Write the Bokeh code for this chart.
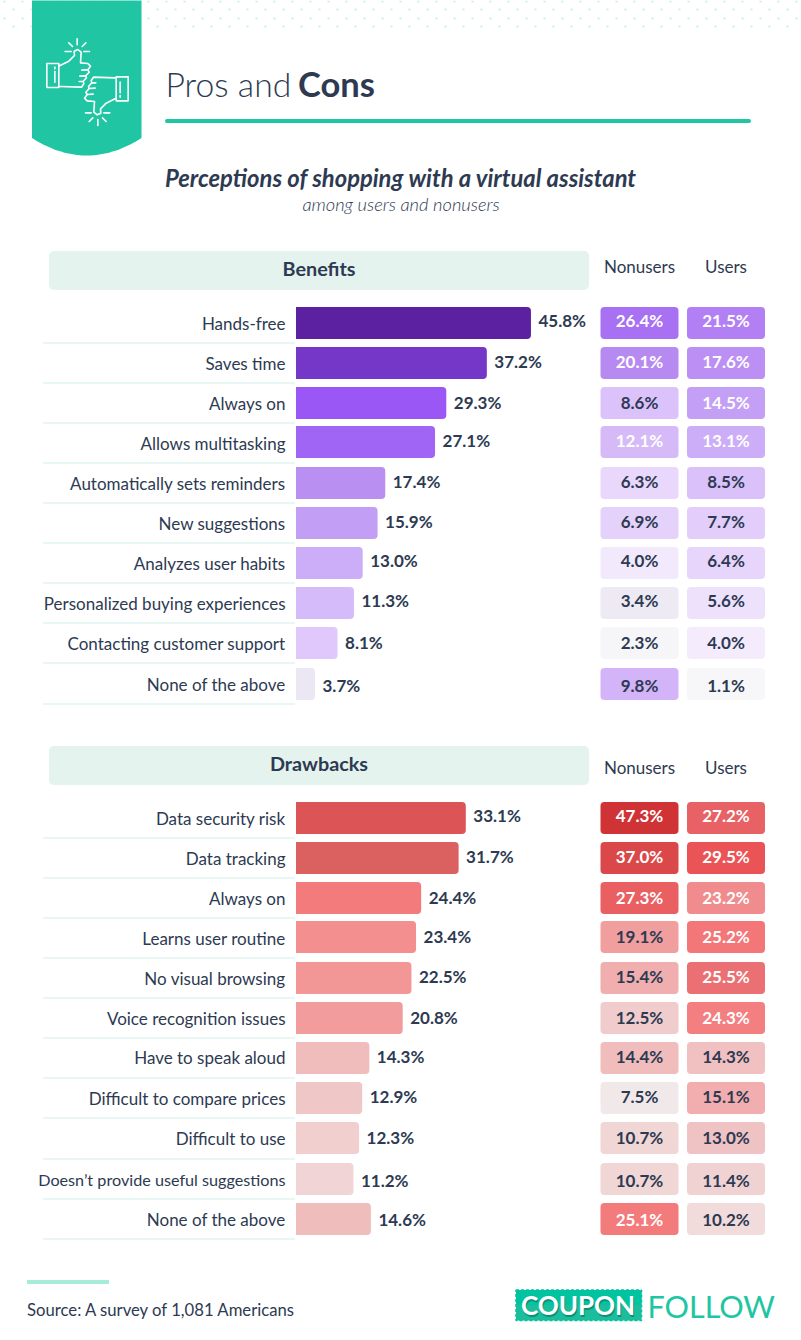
import numpy as np
from bokeh.plotting import figure
from bokeh.models import Range1d
from bokeh.core.properties import value
from bokeh.embed import file_html
from bokeh.resources import INLINE

# ---------- data ----------
benefit_labels = ["Hands-free", "Saves time", "Always on", "Allows multitasking",
                  "Automatically sets reminders", "New suggestions", "Analyzes user habits",
                  "Personalized buying experiences", "Contacting customer support", "None of the above"]
benefit_total = [45.8, 37.2, 29.3, 27.1, 17.4, 15.9, 13.0, 11.3, 8.1, 3.7]
benefit_nonusers = [26.4, 20.1, 8.6, 12.1, 6.3, 6.9, 4.0, 3.4, 2.3, 9.8]
benefit_users = [21.5, 17.6, 14.5, 13.1, 8.5, 7.7, 6.4, 5.6, 4.0, 1.1]

drawback_labels = ["Data security risk", "Data tracking", "Always on", "Learns user routine",
                   "No visual browsing", "Voice recognition issues", "Have to speak aloud",
                   "Difficult to compare prices", "Difficult to use",
                   "Doesn\u2019t provide useful suggestions", "None of the above"]
drawback_total = [33.1, 31.7, 24.4, 23.4, 22.5, 20.8, 14.3, 12.9, 12.3, 11.2, 14.6]
drawback_nonusers = [47.3, 37.0, 27.3, 19.1, 15.4, 12.5, 14.4, 7.5, 10.7, 10.7, 25.1]
drawback_users = [27.2, 29.5, 23.2, 25.2, 25.5, 24.3, 14.3, 15.1, 13.0, 11.4, 10.2]

# ---------- styles ----------
b_bar_col = ["#5b21a0", "#7437c8", "#9a57f5", "#a065f4", "#ba8ff2", "#c29ff4", "#ccaef8", "#d6bbfa", "#e0c8fd", "#ebe8f3"]
b_non_col = ["#a870f3", "#b78af2", "#dcc2fb", "#d6baf8", "#e9d8fb", "#e4d2fb", "#f3e9fc", "#edeaf4", "#f6f6f9", "#d3b4f8"]
b_usr_col = ["#b280f4", "#bb8ff3", "#c39ff6", "#ccadf7", "#dac1fa", "#e2cdfb", "#e8d5fb", "#ede1fc", "#f4ebfc", "#f7f7f9"]
d_bar_col = ["#dc5455", "#db6060", "#f47b7b", "#f38f8e", "#f29696", "#f29c9d", "#f1bcbc", "#f0c7c7", "#f1cfcf", "#f1d5d6", "#f0bdbd"]
d_non_col = ["#cf3335", "#db484a", "#e95f62", "#f19e9f", "#f0aeae", "#f0cccc", "#f0bcbc", "#f1e9e9", "#f1d6d6", "#f1d6d6", "#f47b7c"]
d_usr_col = ["#e86164", "#ea5456", "#f08c8d", "#f37678", "#eb7073", "#f37f81", "#f1c0c0", "#f2adae", "#efc2c3", "#f1d2d3", "#f1dbdb"]

b_non_white = [1, 1, 0, 1, 0, 0, 0, 0, 0, 0]
b_usr_white = [1, 1, 1, 1, 0, 0, 0, 0, 0, 0]
d_non_white = [1, 1, 1, 0, 0, 0, 0, 0, 0, 0, 1]
d_usr_white = [1, 1, 1, 1, 1, 1, 0, 0, 0, 0, 0]

INK = "#2d3a52"
TEAL = "#20c5a3"
FONT = "Lato"
FONT_LIGHT = "Lato Light"

# ---------- layout (pixels) ----------
b_top = [307, 347, 387, 426, 467, 507, 547, 587, 627, 668]
d_top = [802, 842, 882, 921, 962, 1002, 1042, 1082, 1122, 1163, 1203]
b_label_y = [323, 363, 403, 443, 483, 523, 563, 603, 643, 684]
d_label_y = [818, 858, 898, 938, 978, 1018, 1057, 1098, 1138, 1179, 1219]
b_val_y = [320.5, 361, 402, 440, 481, 521, 560, 600, 642, 685]
d_val_y = [815, 856, 897, 936, 976, 1017, 1056, 1096, 1137, 1180, 1219]
b_sep = [343, 383, 423, 463, 503, 543, 583, 623, 663, 704]
d_sep = [838, 878, 918, 958, 998, 1038, 1078, 1118, 1159, 1199, 1239]
b_label_size = ["17px"] * 10
d_label_size = ["17px"] * 9 + ["16.2px", "17px"]
BAR_H = 32
X0, PX_PER_PCT = 296, 5.13
NON_X, USR_X = (600.5, 678.5), (687, 765)
SHIFT = 0.5

p = figure(width=801, height=1340, x_range=Range1d(SHIFT, 801 + SHIFT), y_range=Range1d(1340 + SHIFT, SHIFT),
           output_backend="svg", toolbar_location=None, min_border=0,
           background_fill_color="white", border_fill_color="white")
p.styles = {"position": "absolute", "left": "0", "top": "0"}
p.axis.visible = False
p.grid.visible = False
p.outline_line_color = None
p.extra_x_ranges = {"pct": Range1d((SHIFT - X0) / PX_PER_PCT, (801 + SHIFT - X0) / PX_PER_PCT)}


def txt(x, y, s, size, color=INK, align="left", style="normal", font=FONT, **kw):
    p.text([x], [y], text=[s], text_font=value(font), text_font_size=f"{size}px",
           text_color=color, text_align=align, text_baseline="middle", text_font_style=style, **kw)


# dotted texture
dx, dy = [], []
for r, yy in enumerate([1.5, 9.5, 18.5, 26.5]):
    for xx in np.arange(4.5 + (r % 2) * 9, 801, 18):
        dx.append(xx); dy.append(yy)
p.scatter(dx, dy, marker="square", size=2, color="#c6f1e5", line_color=None)

# banner
bx = np.linspace(32, 141.5, 40)
by = 155.5 - 17.5 * ((bx - 86.75) / 54.75) ** 2
p.patch(list(bx) + [141.5, 32], list(by) + [0, 0], color=TEAL, line_color=None)

# icon (traced in a 3x sketch space, second hand is the point reflection of the first)
hand = [(177, 196), (205, 182), (222, 165), (221, 152), (232, 147), (242, 155), (240, 187),
        (262, 189), (270, 197), (262, 208), (266, 215), (256, 226), (258, 232), (248, 243),
        (250, 250), (243, 260), (178, 258)]
cuff = [(139, 189), (175, 189), (175, 261), (139, 261), (139, 189)]
bar_i = [(163, 213), (163, 245)]
dot_i = [(163, 200), (163, 205)]
rays = [[(230, 115), (230, 133)], [(205, 127), (216, 138)], [(256, 127), (245, 138)],
        [(194, 153), (212, 153)], [(250, 153), (267, 153)]]
fingers = [[(262, 208), (244, 209)], [(256, 226), (238, 227)], [(248, 243), (236, 243)]]
paths = [hand, cuff, bar_i, dot_i] + rays + fingers
for path in paths:
    xs = [a / 3 + 0.5 for a, b in path]
    ys = [b / 3 + 0.5 for a, b in path]
    p.line(xs, ys, line_color="white", line_width=1.6, line_join="round", line_cap="round")
    p.line([522 / 3 + 1 - a for a in xs], [490 / 3 + 1 - b for b in ys], line_color="white",
           line_width=1.6, line_join="round", line_cap="round")

# titles
txt(165.5, 83.5, "Pros and", 33.7, font=FONT_LIGHT)
txt(298, 83.5, "Cons", 34.5, style="bold")
p.line([167, 749], [121, 121], line_color=TEAL, line_width=4, line_cap="round")
txt(401, 178, "Perceptions of shopping with a virtual assistant", 23.8, align="center", style="bold italic")
txt(401, 204, "among users and nonusers", 18.3, align="center", style="italic", font=FONT_LIGHT)


def section(title, head_y, col_y, labels, label_size, totals, nons, usrs, tops, label_y, val_y, seps,
            bar_col, non_col, usr_col, non_w, usr_w):
    p.quad(left=[49], right=[589], top=[head_y], bottom=[head_y + 39], fill_color="#e4f3ee",
           line_color=None, border_radius=5)
    txt(319, head_y + 16.5, title, 19.8, align="center", style="bold")
    txt(639.5, col_y, "Nonusers", 17, align="center")
    txt(726, col_y, "Users", 17, align="center")
    tops = np.array(tops, dtype=float)
    bottoms = tops + BAR_H
    # separators
    p.segment([43] * len(seps), seps, [295] * len(seps), seps, line_color="#dff6f0", line_width=1.5)
    # bars on a percent scale
    p.quad(left=[0] * len(totals), right=totals, top=tops, bottom=bottoms, fill_color=bar_col,
           line_color=None, border_radius=(0, 4, 4, 0), x_range_name="pct")
    p.text(totals, val_y, text=[f"{v:.1f}%" for v in totals], x_offset=7.5, x_range_name="pct",
           text_font=value(FONT), text_font_size="17px", text_font_style="bold", text_color=INK,
           text_baseline="middle")
    p.text([285.5] * len(labels), label_y, text=labels, text_font=value(FONT), text_font_size=label_size,
           text_color=INK, text_align="right", text_baseline="middle")
    # heat cells
    for (x0, x1), vals, cols, whites in [(NON_X, nons, non_col, non_w), (USR_X, usrs, usr_col, usr_w)]:
        p.quad(left=[x0] * len(vals), right=[x1] * len(vals), top=tops, bottom=bottoms,
               fill_color=cols, line_color=None, border_radius=4)
        p.text([(x0 + x1) / 2] * len(vals), val_y, text=[f"{v:.1f}%" for v in vals],
               text_font=value(FONT), text_font_size="17px", text_font_style="bold",
               text_color=["white" if w else INK for w in whites], text_align="center",
               text_baseline="middle")


section("Benefits", 251, 266, benefit_labels, b_label_size, benefit_total, benefit_nonusers, benefit_users,
        b_top, b_label_y, b_val_y, b_sep, b_bar_col, b_non_col, b_usr_col, b_non_white, b_usr_white)
section("Drawbacks", 746, 767, drawback_labels, d_label_size, drawback_total, drawback_nonusers, drawback_users,
        d_top, d_label_y, d_val_y, d_sep, d_bar_col, d_non_col, d_usr_col, d_non_white, d_usr_white)

# footer
p.line([27, 109], [1282, 1282], line_color="#a5ecd9", line_width=4)
txt(27, 1310, "Source: A survey of 1,081 Americans", 16.7)

# logo
p.quad(left=[516], right=[641.5], top=[1290], bottom=[1320.5], fill_color="#1cbd9a",
       line_color="#00c4a0", line_width=1.5, line_dash="3 2")
p.quad(left=[516], right=[641.5], top=[1290], bottom=[1305], fill_color="#00c4a0", line_color=None)
txt(579, 1307, "COUPON", 26, color="#0f8f78", align="center", style="bold")
txt(578, 1305, "COUPON", 26, color="white", align="center", style="bold")
txt(647.5, 1305.5, "FOLLOW", 30.5, color=TEAL)

open("out.html", "w").write(file_html(p, INLINE))
